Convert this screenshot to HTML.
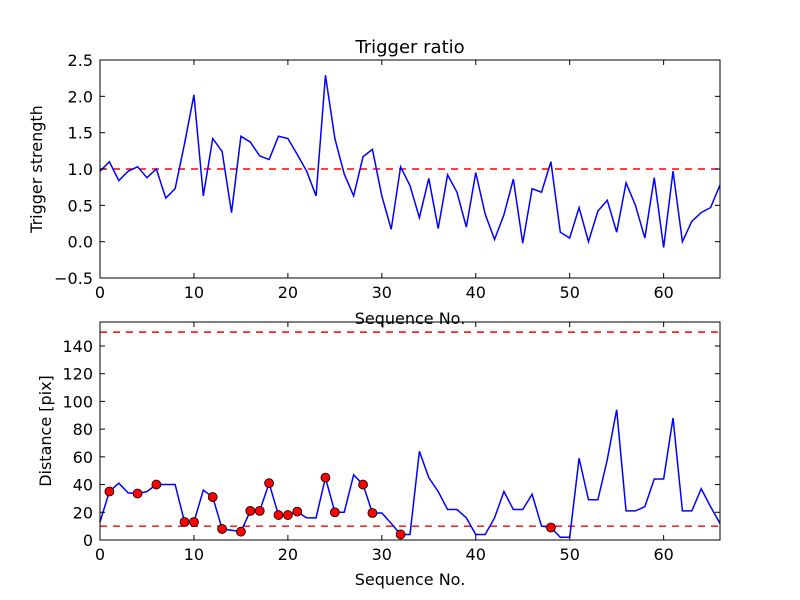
<!DOCTYPE html>
<html><head><meta charset="utf-8">
<style>
html,body{margin:0;padding:0;background:#fff;}
svg{display:block;font-family:"DejaVu Sans","Liberation Sans",sans-serif;}
</style></head>
<body>
<svg id="chart" width="800" height="600" viewBox="0 0 800 600">
<rect width="800" height="600" fill="#fff"/>
</svg>
<script>
const seqTop = [0,1,2,3,4,5,6,7,8,9,10,11,12,13,14,15,16,17,18,19,20,21,22,23,24,25,26,27,28,29,30,31,32,33,34,35,36,37,38,39,40,41,42,43,44,45,46,47,48,49,50,51,52,53,54,55,56,57,58,59,60,61,62,63,64,65,66];
const triggerStrength = [0.97,1.1,0.84,0.97,1.03,0.88,1.0,0.6,0.73,1.35,2.02,0.63,1.42,1.24,0.4,1.45,1.37,1.18,1.13,1.45,1.42,1.2,0.97,0.63,2.29,1.42,0.93,0.63,1.17,1.27,0.63,0.17,1.03,0.77,0.33,0.87,0.18,0.92,0.68,0.2,0.95,0.38,0.03,0.37,0.86,-0.02,0.73,0.68,1.1,0.13,0.05,0.47,0.0,0.42,0.57,0.13,0.81,0.5,0.05,0.88,-0.08,0.97,0.0,0.28,0.4,0.47,0.78];
const distance = [13,35,41,34,33.5,35,40,40,40,13,13,36,31,8,7,6,21,21,41,18,18,20.5,16,16,45,20,20,47,40,19.5,19.5,12,4,4,64,45,35,22,22,16,4,4,16,35,22,22,33,10,9,2,2,59,29,29,58,94,21,21,24,44,44,88,21,21,37,24,12];
const markerIdx = [1,4,6,9,10,12,13,15,16,17,18,19,20,21,24,25,28,29,32,48];
const topThreshold = [1.0];
const botThresholds = [10,150];
const xTicks = [0,10,20,30,40,50,60];
const topYTicks = [-0.5,0.0,0.5,1.0,1.5,2.0,2.5];
const topYLabels = ["\u22120.5","0.0","0.5","1.0","1.5","2.0","2.5"];
const botYTicks = [0,20,40,60,80,100,120,140];

const NS="http://www.w3.org/2000/svg";
const svg=document.getElementById('chart');
function mk(tag,attrs,parent){const e=document.createElementNS(NS,tag);for(const k in attrs)e.setAttribute(k,attrs[k]);(parent||svg).appendChild(e);return e;}

const L=100,R=720;
const xS=v=>L+(v-0)/(66-0)*(R-L);
const axTop={t:60,b:278,min:-0.5,max:2.5};
const axBot={t:322,b:540,min:0,max:157.3};
const yS=(ax,v)=>ax.b-(v-ax.min)/(ax.max-ax.min)*(ax.b-ax.t);

function drawAxes(ax,yt,ylab,name){
  const g=mk('g',{});
  
  
  xTicks.forEach(v=>{
    const x=xS(v);
    const t1=mk('line',{x1:x,x2:x,y1:ax.b,y2:ax.b-5,stroke:'#000','stroke-width':1},g);
    
    
    mk('line',{x1:x,x2:x,y1:ax.t,y2:ax.t+5,stroke:'#000','stroke-width':1},g);
    const tx=mk('text',{x:x,y:ax.b+20,'text-anchor':'middle','font-size':16,fill:'#000'},g);
    tx.textContent=String(v);
    
    
  });
  yt.forEach((v,i)=>{
    const y=yS(ax,v);
    mk('line',{x1:L,x2:L+5,y1:y,y2:y,stroke:'#000','stroke-width':1},g);
    mk('line',{x1:R,x2:R-5,y1:y,y2:y,stroke:'#000','stroke-width':1},g);
    const tx=mk('text',{x:L-7,y:y+6,'text-anchor':'end','font-size':16,fill:'#000'},g);
    tx.textContent=ylab[i];
    
    
  });
}
function frame(ax,name){
  const r=mk('rect',{x:L,y:ax.t,width:R-L,height:ax.b-ax.t,fill:'none',stroke:'#000','stroke-width':1});
  
  
}
function hline(ax,v,name){
  const y=yS(ax,v);
  const l=mk('line',{x1:L,x2:R,y1:y,y2:y,stroke:'#ff0000','stroke-width':1.4,'stroke-dasharray':'7,6'});
  
  
}
function series(ax,xs,ys,name){
  const pts=xs.map((x,i)=>xS(x).toFixed(2)+','+yS(ax,ys[i]).toFixed(2)).join(' ');
  const p=mk('polyline',{points:pts,fill:'none',stroke:'#0000ff','stroke-width':1.5,'stroke-linejoin':'miter'});
  
  
}

// Top
topThreshold.forEach(v=>hline(axTop,v,'trigger-threshold-line'));
series(axTop,seqTop,triggerStrength,'trigger-strength-line');
drawAxes(axTop,topYTicks,topYLabels,'top-axes');
frame(axTop,'top-plot-frame');

// Bottom
botThresholds.forEach(v=>hline(axBot,v,'distance-threshold-line'));
series(axBot,seqTop,distance,'distance-line');
markerIdx.forEach(i=>{
  const c=mk('circle',{cx:xS(seqTop[i]),cy:yS(axBot,distance[i]),r:4.5,fill:'#ff0000',stroke:'#000','stroke-width':0.8});
  
  
});
drawAxes(axBot,botYTicks,botYTicks.map(String),'bottom-axes');
frame(axBot,'bottom-plot-frame');

// Titles / labels
function txt(x,y,s,size,name,rot){
  const t=mk('text',{x:x,y:y,'text-anchor':'middle','font-size':size,fill:'#000'});
  if(rot)t.setAttribute('transform','rotate(-90 '+x+' '+y+')');
  t.textContent=s;
  
  
}
txt(410,53,'Trigger ratio',18,'chart-title');
txt(410,324,'Sequence No.',16,'top-x-axis-title');
txt(410,585,'Sequence No.',16,'bottom-x-axis-title');
txt(42,169,'Trigger strength',16,'top-y-axis-title',true);
txt(51,431,'Distance [pix]',16,'bottom-y-axis-title',true);
</script>
</body></html>
